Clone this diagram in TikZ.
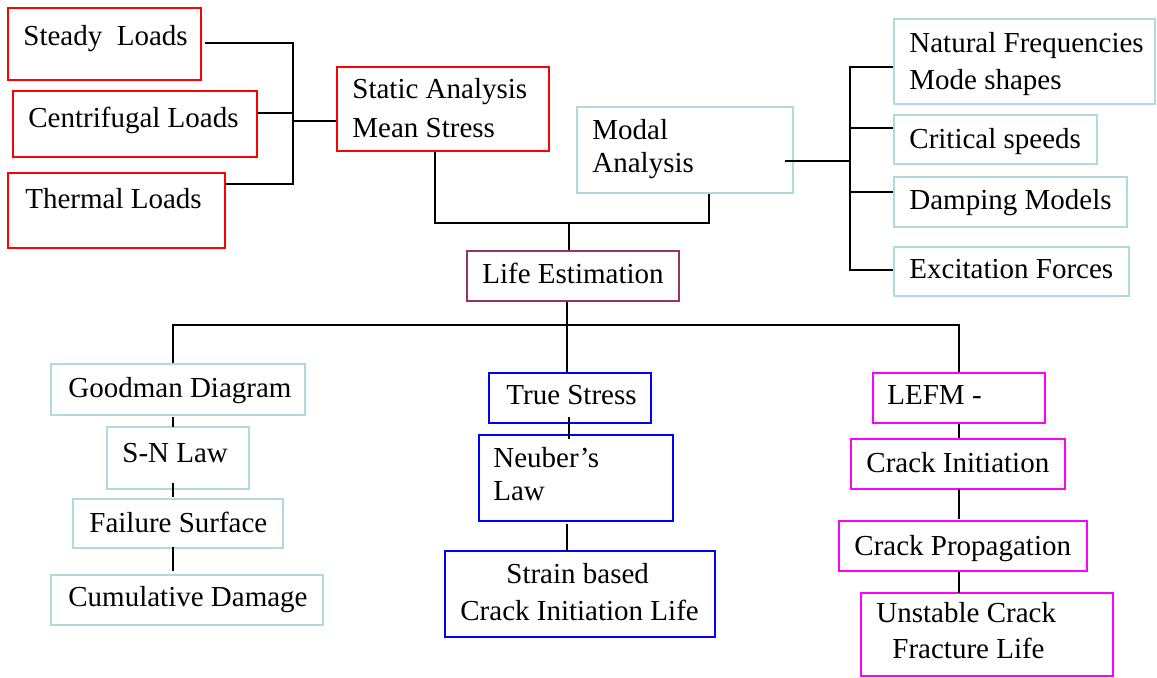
\documentclass[tikz,border=0pt]{standalone}
\usepackage{fontspec}
\setmainfont{Liberation Serif}
\usetikzlibrary{fit}
\definecolor{cred}{RGB}{255,0,0}
\definecolor{cblue}{RGB}{0,0,255}
\definecolor{cmag}{RGB}{255,0,255}
\definecolor{clight}{RGB}{176,218,222}
\definecolor{cmaroon}{RGB}{153,51,102}
\tikzset{
  boxbase/.style={draw, line width=1pt, inner sep=0pt, rectangle},
  redbox/.style={boxbase, draw=cred},
  bluebox/.style={boxbase, draw=cblue},
  magbox/.style={boxbase, draw=cmag},
  lightbox/.style={boxbase, draw=clight},
  marbox/.style={boxbase, draw=cmaroon},
  txt/.style={inner sep=0pt, anchor=base west, font=\fontsize{14.5pt}{17pt}\selectfont},
  conn/.style={draw=black, line width=1pt}
}
\begin{document}
\begin{tikzpicture}[x=0.5pt, y=-0.5pt]
\useasboundingbox (0,0) rectangle (1157,677);
% boxes
\node[redbox, fit={(8,8)(201,80)}] (steady) {};
\node[redbox, fit={(13,91)(257,157)}] (centri) {};
\node[redbox, fit={(8,173)(225,248)}] (thermal) {};
\node[redbox, fit={(337,67)(549,151)}] (static) {};
\node[lightbox, fit={(577,107)(793,193)}] (modal) {};
\node[marbox, fit={(467,251)(679,301)}] (life) {};
\node[lightbox, fit={(894,19)(1155,104)}] (natural) {};
\node[lightbox, fit={(894,115)(1097,164)}] (critical) {};
\node[lightbox, fit={(894,177)(1127,227)}] (damping) {};
\node[lightbox, fit={(894,247)(1129,296)}] (excit) {};
\node[lightbox, fit={(51,364)(305,415)}] (goodman) {};
\node[lightbox, fit={(107,427)(249,489)}] (sn) {};
\node[lightbox, fit={(73,499)(283,548)}] (failure) {};
\node[lightbox, fit={(51,575)(323,625)}] (cumul) {};
\node[bluebox, fit={(489,373)(651,423)}] (truestress) {};
\node[bluebox, fit={(479,435)(673,521)}] (neuber) {};
\node[bluebox, fit={(445,551)(715,637)}] (strain) {};
\node[magbox, fit={(873,373)(1045,423)}] (lefm) {};
\node[magbox, fit={(851,439)(1065,489)}] (crackinit) {};
\node[magbox, fit={(839,521)(1087,571)}] (crackprop) {};
\node[magbox, fit={(861,593)(1113,676)}] (unstable) {};
% texts
\node[txt] (t1) at (23,45) {Steady\ \ Loads};
\node[txt] (t2) at (28,127) {Centrifugal Loads};
\node[txt] (t3) at (25,208) {Thermal Loads};
\node[txt] (t4) at (352,98) {Static Analysis};
\node[txt] (t5) at (352,137) {Mean Stress};
\node[txt] (t6) at (592,139) {Modal};
\node[txt] (t7) at (592,172) {Analysis};
\node[txt] (t8) at (482,283) {Life Estimation};
\node[txt] (t9) at (909,52) {Natural Frequencies};
\node[txt] (t10) at (909,89) {Mode shapes};
\node[txt] (t11) at (909,148) {Critical speeds};
\node[txt] (t12) at (909,209) {Damping Models};
\node[txt] (t13) at (909,278) {Excitation Forces};
\node[txt] (t14) at (68,397) {Goodman Diagram};
\node[txt] (t15) at (122,462) {S-N Law};
\node[txt] (t16) at (89,532) {Failure Surface};
\node[txt] (t17) at (68,606) {Cumulative Damage};
\node[txt] (t18) at (506,404) {True Stress};
\node[txt] (t19) at (493,467) {Neuber’s};
\node[txt] (t20) at (493,500) {Law};
\node[txt] (t21) at (506,583) {Strain based};
\node[txt] (t22) at (460,620) {Crack Initiation Life};
\node[txt] (t23) at (887,404) {LEFM -};
\node[txt] (t24) at (866,472) {Crack Initiation};
\node[txt] (t25) at (854,555) {Crack Propagation};
\node[txt] (t26) at (876,622) {Unstable Crack};
\node[txt] (t27) at (892,658) {Fracture Life};
% junction coordinates
\coordinate (ja) at (293,43);
\coordinate (jb) at (293,113);
\coordinate (jload) at (293,121);
\coordinate (jc) at (293,184);
\coordinate (jmid) at (569,223);
\coordinate (jlow) at (567,325);
\coordinate (jmod) at (850,161);
\coordinate (m1) at (850,67);
\coordinate (m2) at (850,128);
\coordinate (m3) at (850,192);
\coordinate (m4) at (850,270);
% load connectors
\draw[conn] (steady.east |- ja) ++(3,0) -- (ja) -- (jc) -- (thermal.east |- jc);
\draw[conn] (centri.east |- jb) -- (jb);
\draw[conn] (jload) -- (static.west |- jload);
% static / modal -> life
\draw[conn] ([xshift=-4pt]static.south) |- (jmid) -| ([xshift=12pt]modal.south);
\draw[conn] (jmid) -- (jmid |- life.north);
% modal -> children
\draw[conn] ([xshift=-4.5pt]modal.east |- jmod) -- (jmod);
\draw[conn] (natural.west |- m1) -- (m1) -- (m4) -- (excit.west |- m4);
\draw[conn] (critical.west |- m2) -- (m2);
\draw[conn] (damping.west |- m3) -- (m3);
% life -> branches
\draw[conn] (life.south -| jlow) -- (jlow);
\draw[conn] ([xshift=-2.5pt]goodman.north) |- (jlow) -| (lefm.north);
\draw[conn] (jlow) -- (jlow |- truestress.north);
% left chain
\draw[conn] (173,417) -- (173,427);
\draw[conn] (173,483) -- (173,497);
\draw[conn] (173,547) -- (173,571);
% centre chain
\draw[conn] (569,417) -- (569,439);
\draw[conn] (567,524) -- (567,551);
% right chain
\draw[conn] (lefm.south) -- (crackinit.north -| lefm.south);
\draw[conn] (959,489) -- (959,519);
\draw[conn] (crackprop.south -| lefm.south) -- (959,593);
\end{tikzpicture}
\end{document}
